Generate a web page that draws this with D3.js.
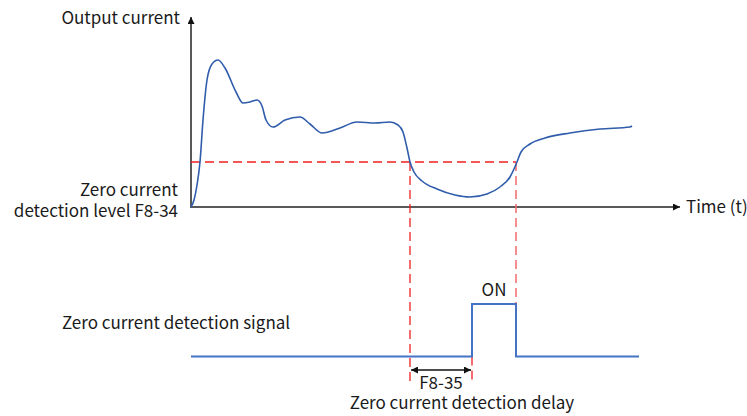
<!DOCTYPE html>
<html>
<head>
<meta charset="utf-8">
<script src="https://cdn.jsdelivr.net/npm/d3@7/dist/d3.min.js"></script>
<style>
  html, body { margin: 0; padding: 0; background: #fff; }
  svg { display: block; }
  text { font-family: "Noto Sans CJK SC", "Noto Sans", sans-serif; fill: #1a1a1a; }
</style>
</head>
<body>
<svg id="chart" width="747" height="416"></svg>
<script>
// Output current over time (arbitrary units)
const curveTime    = [0, 0.3, 0.6, 0.9, 1.2, 1.6, 2.1, 2.7, 3.4, 4.5, 5.2, 5.9, 6.6, 7.1, 7.5, 8.2, 9.4, 10.9, 11.9, 13.1, 14.9, 16.6, 18.4, 19.9, 20.7, 21.2, 21.6, 21.9, 22.3, 23.1, 24.6, 26.4, 27.9, 29.6, 30.9, 31.9, 32.3, 32.6, 33.0, 33.9, 35.4, 37.9, 40.9, 43.9, 44.1];
const curveCurrent = [0, 0.7, 2.2, 4.5, 8.7, 12.7, 14.3, 14.7, 13.9, 11.5, 10.4, 10.5, 10.7, 10.1, 8.7, 8.0, 8.7, 9.0, 8.3, 7.4, 7.9, 8.5, 8.4, 8.5, 8.2, 7.5, 5.9, 4.5, 3.5, 2.6, 1.8, 1.2, 1.0, 1.3, 2.0, 3.0, 3.8, 4.5, 5.5, 6.3, 6.9, 7.4, 7.8, 8.0, 8.1];

// Zero current detection level (F8-34)
const zeroLevel = 4.5;
// Times where the current crosses the level, and where the signal turns on after the F8-35 delay
const crossDown = 21.9;
const crossUp   = 32.5;
const signalOn  = 28.1;
const signalEnd = 44.8;

// Zero current detection signal (step: time, state)
const signalTime  = [0, signalOn, signalOn, crossUp, crossUp, signalEnd];
const signalState = [0, 0, 1, 1, 0, 0];

const axisLabels = {
  y: "Output current",
  x: "Time (t)",
  level: ["Zero current", "detection level F8-34"],
  signal: "Zero current detection signal",
  on: "ON",
  delayCode: "F8-35",
  delay: "Zero current detection delay"
};

const svg = d3.select("#chart");

const x = d3.scaleLinear().domain([0, 49]).range([191, 681]);
const y = d3.scaleLinear().domain([0, 19.1]).range([207, 16]);
const ys = d3.scaleLinear().domain([0, 1]).range([356.5, 304]);

const axisColor = "#595959";
const red = "#f21f1f";

// arrow markers
const defs = svg.append("defs");
function marker(id, color, orient) {
  defs.append("marker")
    .attr("id", id)
    .attr("viewBox", "0 0 10 10")
    .attr("refX", 10).attr("refY", 5)
    .attr("markerWidth", 7).attr("markerHeight", 7)
    .attr("markerUnits", "userSpaceOnUse")
    .attr("orient", orient)
    .append("path")
    .attr("d", "M0,0 L10,5 L0,10 Z")
    .attr("fill", color);
}
marker("axisArrow", "#111", "auto");
marker("dimArrow", "#111", "auto-start-reverse");

// axes
svg.append("line")
  .attr("x1", x(0)).attr("y1", y(0))
  .attr("x2", x(0)).attr("y2", y(19.1) + 1)
  .attr("stroke", axisColor).attr("stroke-width", 2)
  .attr("marker-end", "url(#axisArrow)");
svg.append("line")
  .attr("x1", x(0) - 1).attr("y1", y(0))
  .attr("x2", x(49) - 1).attr("y2", y(0))
  .attr("stroke", axisColor).attr("stroke-width", 2)
  .attr("marker-end", "url(#axisArrow)");

// threshold and guide lines
const dash = "9,5";
svg.append("line")
  .attr("x1", x(0)).attr("x2", x(crossUp))
  .attr("y1", y(zeroLevel)).attr("y2", y(zeroLevel))
  .attr("stroke", red).attr("stroke-width", 1.3).attr("stroke-dasharray", dash);
svg.append("line")
  .attr("x1", x(crossDown)).attr("x2", x(crossDown))
  .attr("y1", y(zeroLevel)).attr("y2", 382)
  .attr("stroke", red).attr("stroke-width", 1.3).attr("stroke-dasharray", dash);
svg.append("line")
  .attr("x1", x(crossUp)).attr("x2", x(crossUp))
  .attr("y1", y(zeroLevel)).attr("y2", 320)
  .attr("stroke", "#f26a6a").attr("stroke-width", 1.5).attr("stroke-dasharray", dash);
svg.append("line")
  .attr("x1", x(signalOn)).attr("x2", x(signalOn))
  .attr("y1", ys(0)).attr("y2", 382)
  .attr("stroke", red).attr("stroke-width", 1.3).attr("stroke-dasharray", dash);

// output current curve
const pts = curveTime.map((t, i) => [t, curveCurrent[i]]);
svg.append("path")
  .datum(pts)
  .attr("fill", "none")
  .attr("stroke", "#2f5cab")
  .attr("stroke-width", 1.6)
  .attr("d", d3.line().x(d => x(d[0])).y(d => y(d[1])).curve(d3.curveMonotoneX));

// detection signal
const sig = signalTime.map((t, i) => [t, signalState[i]]);
svg.append("path")
  .datum(sig)
  .attr("fill", "none")
  .attr("stroke", "#4472c4")
  .attr("stroke-width", 2)
  .attr("d", d3.line().x(d => x(d[0])).y(d => ys(d[1])));

// delay dimension arrow
svg.append("line")
  .attr("x1", x(crossDown) + 1).attr("x2", x(signalOn) - 1)
  .attr("y1", 370).attr("y2", 370)
  .attr("stroke", "#111").attr("stroke-width", 1.3)
  .attr("marker-start", "url(#dimArrow)")
  .attr("marker-end", "url(#dimArrow)");

// labels
const fs = 17;
svg.append("text").attr("x", 180).attr("y", 24).attr("text-anchor", "end")
  .attr("font-size", fs).text(axisLabels.y);
svg.append("text").attr("x", 686).attr("y", 213)
  .attr("font-size", fs).text(axisLabels.x);
svg.append("text").attr("x", 178).attr("y", 196).attr("text-anchor", "end")
  .attr("font-size", fs).text(axisLabels.level[0]);
svg.append("text").attr("x", 178).attr("y", 217).attr("text-anchor", "end")
  .attr("font-size", fs).text(axisLabels.level[1]);
svg.append("text").attr("x", 62).attr("y", 329)
  .attr("font-size", fs).text(axisLabels.signal);
svg.append("text").attr("x", (x(signalOn) + x(crossUp)) / 2).attr("y", 296)
  .attr("text-anchor", "middle").attr("font-size", fs).text(axisLabels.on);
svg.append("text").attr("x", (x(crossDown) + x(signalOn)) / 2).attr("y", 389)
  .attr("text-anchor", "middle").attr("font-size", fs).text(axisLabels.delayCode);
svg.append("text").attr("x", 462).attr("y", 409)
  .attr("text-anchor", "middle").attr("font-size", fs).text(axisLabels.delay);
</script>
</body>
</html>
